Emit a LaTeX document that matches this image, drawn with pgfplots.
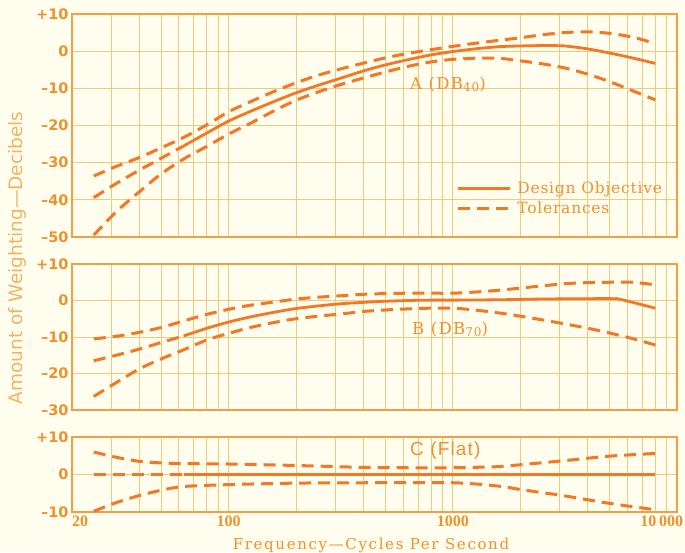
\documentclass[border=0pt]{standalone}
\usepackage{fontspec}
\usepackage{pgfplots}
\pgfplotsset{compat=1.18}
\setmainfont{DejaVu Serif}
\newfontfamily\ysansfont{DejaVu Sans}
\newfontfamily\xserif{Liberation Serif}
\newfontfamily\labserif{DejaVu Serif}[LetterSpace=11]
\newfontfamily\annserif{DejaVu Serif}[LetterSpace=8]
\newfontfamily\legserif{DejaVu Serif}[LetterSpace=5]
\newfontfamily\csans{Liberation Sans}[LetterSpace=6]
\definecolor{bgc}{RGB}{255,253,238}
\definecolor{gridc}{RGB}{236,202,128}
\definecolor{framec}{RGB}{240,160,70}
\definecolor{curvec}{RGB}{243,120,38}
\definecolor{textc}{RGB}{238,146,46}
\definecolor{ylabc}{RGB}{242,180,100}
\pgfplotsset{
  every axis/.append style={
    scale only axis, width=605pt,
    xmin=20, xmax=10000,
    xtick={20,100,1000,10000}, xticklabels={},
    minor xtick={30,40,50,60,70,80,90,200,300,400,500,600,700,800,900,2000,3000,4000,5000,6000,7000,8000,9000},
    grid=both,
    major grid style={gridc, line width=1pt},
    minor grid style={gridc, line width=1pt},
    major tick length=0pt, minor tick length=0pt,
    axis line style={framec, line width=2pt},
    yticklabel style={font=\ysansfont\bfseries\fontsize{14.5}{16}\selectfont, text=textc},
    xticklabel style={font=\xserif\bfseries\fontsize{16}{18}\selectfont, text=textc},
  },
}
\tikzset{
  tol/.style={curvec, line width=3pt, dash pattern=on 12pt off 7pt, smooth, tension=0.5},
  des/.style={curvec, line width=2.8pt, smooth, tension=0.5},
}
\begin{document}
\begin{tikzpicture}
\fill[bgc] (0,0) rectangle (685pt,552pt);
% Panel A
\begin{semilogxaxis}[at={(72pt,315pt)}, anchor=south west, height=223pt,
  ymin=-50, ymax=10, ytick={-50,-40,-30,-20,-10,0,10},
  yticklabels={–50,–40,–30,–20,–10,0,+10},
  legend style={at={(0.63,0.265)}, anchor=north west, draw=none, fill=none,
    font=\legserif\fontsize{15.5}{17}\selectfont, text=textc, row sep=2pt, column sep=4pt},
  legend cell align=left,
  legend image code/.code={\draw[#1] (0pt,0pt) -- (52pt,0pt);}]
\addplot[tol, forget plot] coordinates {(25,-39.4) (31.5,-35.6) (40,-32.0) (50,-28.8) (63,-25.5)};
\addplot[des] coordinates {(63,-25.5) (80,-22.0) (100,-18.8) (125,-16.2) (160,-13.5) (200,-11.2) (250,-9.2) (315,-7.3) (400,-5.3) (500,-3.7) (630,-2.3) (800,-1.0) (1000,-0.1) (1250,0.6) (1600,1.2) (2000,1.4) (2500,1.5) (3150,1.4) (4000,0.6) (5000,-0.5) (6300,-1.8) (8000,-3.3)};
\addlegendentry{Design Objective}
\addplot[tol] coordinates {(25,-33.6) (31.5,-31.0) (40,-28.6) (50,-26.0) (63,-23.2) (80,-19.8) (100,-16.3) (125,-13.6) (160,-10.8) (200,-8.5) (250,-6.5) (315,-4.8) (400,-3.2) (500,-1.8) (630,-0.6) (800,0.4) (1000,1.3) (1250,2.1) (1600,2.9) (2000,3.6) (2500,4.4) (3150,5.0) (4000,5.2) (5000,4.8) (6300,3.8) (8000,2.1)};
\addlegendentry{Tolerances}
\addplot[tol, forget plot] coordinates {(25,-49.5) (31.5,-43.2) (40,-37.8) (50,-33.0) (63,-29.0) (80,-25.6) (100,-22.3) (125,-19.4) (160,-16.0) (200,-13.2) (250,-11.0) (315,-9.0) (400,-7.2) (500,-5.6) (630,-4.1) (800,-2.9) (1000,-2.2) (1250,-1.9) (1600,-1.9) (2000,-2.6) (2500,-3.4) (3150,-4.5) (4000,-6.2) (5000,-8.2) (6300,-10.6) (8000,-13.1)};
\end{semilogxaxis}
% Panel B
\begin{semilogxaxis}[at={(72pt,142pt)}, anchor=south west, height=146pt,
  ymin=-30, ymax=10, ytick={-30,-20,-10,0,10},
  yticklabels={–30,–20,–10,0,+10}]
\addplot[tol] coordinates {(25,-16.5) (31.5,-15.0) (40,-13.3) (50,-11.5) (63,-9.7)};
\addplot[des] coordinates {(63,-9.7) (80,-7.6) (100,-5.9) (125,-4.5) (160,-3.2) (200,-2.2) (250,-1.5) (315,-0.9) (400,-0.5) (500,-0.2) (630,0) (800,0.1) (1000,0.1) (1600,0.2) (2500,0.4) (4000,0.5) (5200,0.5) (5600,0.3) (8000,-2.1)};
\addplot[tol] coordinates {(25,-10.5) (31.5,-9.8) (40,-8.7) (50,-7.4) (63,-5.6) (80,-3.8) (100,-2.4) (125,-1.3) (160,-0.4) (200,0.4) (250,0.9) (315,1.3) (400,1.7) (500,1.9) (630,2.0) (800,2.0) (1000,2.0) (1250,2.3) (1600,2.8) (2000,3.4) (2500,4.0) (3150,4.6) (4000,4.9) (5000,5.0) (6300,5.0) (8000,4.3)};
\addplot[tol] coordinates {(25,-26.3) (31.5,-22.5) (40,-18.7) (50,-16.0) (63,-13.5) (80,-10.8) (100,-9.0) (125,-7.4) (160,-6.0) (200,-5.0) (250,-4.3) (315,-3.7) (400,-3.0) (500,-2.6) (630,-2.3) (800,-2.1) (1000,-2.1) (1250,-2.6) (1600,-3.4) (2000,-4.3) (2500,-5.3) (3150,-6.4) (4000,-7.6) (5000,-8.9) (6300,-10.4) (8000,-12.2)};
\end{semilogxaxis}
% Panel C
\begin{semilogxaxis}[at={(72pt,40pt)}, anchor=south west, height=75pt,
  ymin=-10, ymax=10, ytick={-10,0,10},
  yticklabels={–10,0,+10},
  xticklabels={\makebox[0pt][l]{20},100,1000,\hspace*{12pt}\makebox[0pt][r]{10\,000}}]
\addplot[tol] coordinates {(25,0) (63,0)};
\addplot[des] coordinates {(63,0) (8000,0)};
\addplot[tol] coordinates {(25,6.0) (31.5,4.6) (40,3.5) (50,3.1) (63,2.9) (100,2.8) (200,2.4) (400,1.9) (630,1.8) (1000,1.8) (1600,2.1) (2000,2.6) (3150,3.7) (5000,4.9) (8000,5.6)};
\addplot[tol] coordinates {(25,-9.8) (31.5,-7.5) (40,-5.6) (50,-4.2) (63,-3.2) (100,-2.7) (200,-2.3) (400,-2.2) (1000,-2.2) (1600,-3.1) (2000,-4.0) (3150,-5.7) (5000,-7.7) (8000,-9.4)};
\end{semilogxaxis}
% annotations
\node[anchor=west, inner sep=0pt, text=textc, font=\annserif\fontsize{16.5}{18}\selectfont] at (410pt,467pt) {A (DB{\fontsize{12}{12}\selectfont\raisebox{-2pt}{40}})};
\node[anchor=west, inner sep=0pt, text=textc, font=\annserif\fontsize{16.5}{18}\selectfont] at (412pt,222pt) {B (DB{\fontsize{12}{12}\selectfont\raisebox{-2pt}{70}})};
\node[anchor=west, inner sep=0pt, text=textc, font=\csans\fontsize{19}{21}\selectfont] at (410pt,101pt) {C (Flat)};
\node[rotate=90, inner sep=0pt, text=ylabc, font=\ysansfont\fontsize{18.5}{20}\selectfont] at (17pt,294pt) {Amount of Weighting—Decibels};
\node[anchor=base, inner sep=0pt, text=textc, font=\labserif\fontsize{15}{17}\selectfont] at (371pt,3pt) {Frequency—Cycles Per Second};
\pgfresetboundingbox
\useasboundingbox (0,0) rectangle (685pt,552pt);
\end{tikzpicture}
\end{document}
